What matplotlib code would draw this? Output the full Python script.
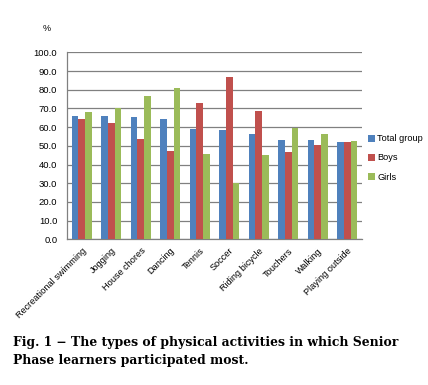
import numpy as np
import matplotlib
matplotlib.use("Agg")
import matplotlib.pyplot as plt

# activity categories and percentages per group
activities = ["Recreational swimming", "Jogging", "House chores", "Dancing", "Tennis",
              "Soccer", "Riding bicycle", "Touchers", "Walking", "Playing outside"]
total_group = [66.1, 66.1, 65.2, 64.3, 59.1, 58.3, 56.5, 52.9, 52.9, 52.2]
boys = [64.2, 62.2, 53.5, 47.4, 72.7, 86.6, 68.4, 46.5, 50.4, 51.9]
girls = [68.1, 70.0, 76.6, 80.9, 45.8, 30.3, 44.9, 59.5, 56.1, 52.6]
yticks = [0, 10, 20, 30, 40, 50, 60, 70, 80, 90, 100]

plt.rcParams['font.family'] = ['Liberation Sans', 'DejaVu Sans']

fig = plt.figure(figsize=(4.28, 3.85), dpi=100)
ax = fig.add_axes([0.1565, 0.3784, 0.6893, 0.4856])

x = np.arange(len(activities))
w = 0.227
ax.bar(x - w, total_group, w, color="#4F81BD", label="Total group", zorder=3)
ax.bar(x, boys, w, color="#C0504D", label="Boys", zorder=3)
ax.bar(x + w, girls, w, color="#9BBB59", label="Girls", zorder=3)

ax.set_xlim(-0.5, len(activities) - 0.5)
ax.set_ylim(0, 100)
ax.set_yticks(yticks)
ax.set_yticklabels([f"{v:.1f}" for v in yticks], fontsize=6.8)
ax.set_xticks(x)
ax.set_xticklabels(activities, rotation=45, ha="right", rotation_mode="anchor", fontsize=6.6)
ax.tick_params(axis="y", length=0, pad=7)
ax.tick_params(axis="x", length=0, pad=5)
ax.yaxis.grid(True, color="#808080", linewidth=0.9, zorder=0)
for side in ["top", "right"]:
    ax.spines[side].set_visible(False)
for side in ["left", "bottom"]:
    ax.spines[side].set_color("#808080")
    ax.spines[side].set_linewidth(0.9)

fig.text(0.11, 0.925, "%", fontsize=6.5, ha="center", va="center")

ax.legend(loc="center left", bbox_to_anchor=(1.0, 0.435), frameon=False, fontsize=6.6,
          handlelength=0.8, handleheight=0.8, handletextpad=0.25, labelspacing=1.1,
          borderaxespad=0.2)

fig.text(0.03, 0.087, "Fig. 1 \u2212 The types of physical activities in which Senior\nPhase learners participated most.",
         fontsize=8.9, fontweight="bold", family=["DejaVu Serif"],
         ha="left", va="center", linespacing=1.45)

fig.savefig("out.png", dpi=100)
